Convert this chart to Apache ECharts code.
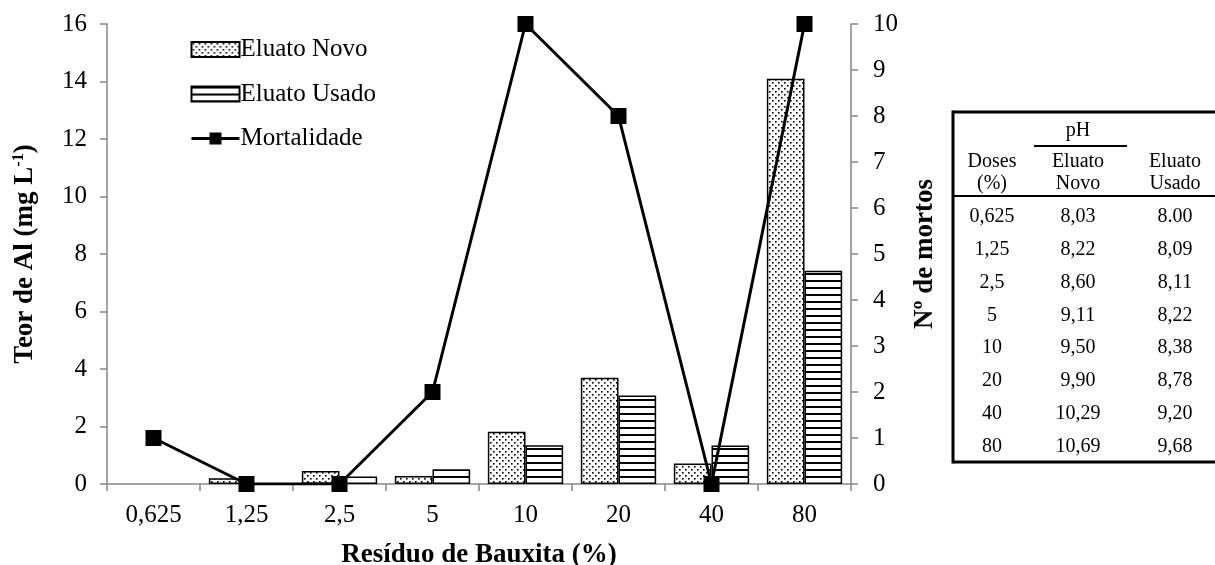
<!DOCTYPE html>
<html>
<head>
<meta charset="utf-8">
<script src="https://cdn.jsdelivr.net/npm/echarts@6/dist/echarts.min.js"></script>
<style>
html,body{margin:0;padding:0;background:#fff;}
#chart{width:1215px;height:565px;}
</style>
</head>
<body>
<div id="chart"></div>
<script>
// ---- data ----
var categories = ['0,625', '1,25', '2,5', '5', '10', '20', '40', '80'];
var eluatoNovo = [null, 0.2, 0.45, 0.28, 1.82, 3.70, 0.71, 14.1];
var eluatoUsado = [null, 0, 0.26, 0.51, 1.35, 3.08, 1.34, 7.42];
var mortalidade = [1, 0, 0, 2, 10, 8, 0, 10];
var leftTicks = [0, 16, 2];   // min, max, interval
var rightTicks = [0, 10, 1];
// pH table
var tableDoses = ['0,625', '1,25', '2,5', '5', '10', '20', '40', '80'];
var phNovo = ['8,03', '8,22', '8,60', '9,11', '9,50', '9,90', '10,29', '10,69'];
var phUsado = ['8.00', '8,09', '8,11', '8,22', '8,38', '8,78', '9,20', '9,68'];

// ---- patterns ----
function dotPattern() {
  var c = document.createElement('canvas');
  c.width = 6; c.height = 6;
  var g = c.getContext('2d');
  g.fillStyle = '#fff'; g.fillRect(0, 0, 6, 6);
  g.fillStyle = '#000';
  g.fillRect(1, 1, 1.6, 1.6);
  g.fillRect(4, 4, 1.6, 1.6);
  return c;
}
function linePattern() {
  var c = document.createElement('canvas');
  c.width = 8; c.height = 7;
  var g = c.getContext('2d');
  g.fillStyle = '#fff'; g.fillRect(0, 0, 8, 7);
  g.fillStyle = '#000';
  g.fillRect(0, 0, 8, 2);
  return c;
}

var FONT = "'Liberation Serif', 'Times New Roman', serif";
var chart = echarts.init(document.getElementById('chart'), null, {renderer: 'canvas'});

// table graphics
var colX = [992, 1078, 1175];
var rowY0 = 217, rowStep = 32.8;
var tableEls = [];
function txt(x, y, s) {
  tableEls.push({type: 'text', x: x, y: y, style: {text: s, fontFamily: FONT, fontSize: 20, fill: '#000', align: 'center', verticalAlign: 'middle'}});
}
function ln(x1, y1, x2, y2, w) {
  tableEls.push({type: 'line', shape: {x1: x1, y1: y1, x2: x2, y2: y2}, style: {stroke: '#000', lineWidth: w}});
}
ln(953, 112, 1215, 112, 3);
ln(953, 462, 1215, 462, 3);
ln(953, 110.5, 953, 463.5, 3);
ln(953, 196, 1215, 196, 2);
ln(1034, 146, 1127, 146, 2);
txt(1078, 131, 'pH');
txt(colX[0], 162, 'Doses'); txt(colX[0], 184, '(%)');
txt(colX[1], 162, 'Eluato'); txt(colX[1], 184, 'Novo');
txt(colX[2], 162, 'Eluato'); txt(colX[2], 184, 'Usado');
for (var i = 0; i < tableDoses.length; i++) {
  var y = rowY0 + i * rowStep;
  txt(colX[0], y, tableDoses[i]);
  txt(colX[1], y, phNovo[i]);
  txt(colX[2], y, phUsado[i]);
}

var axisLineStyle = {color: '#868686', width: 1.5};

chart.setOption({
  animation: false,
  backgroundColor: '#fff',
  textStyle: {fontFamily: FONT, color: '#000'},
  grid: {left: 107, right: 364, top: 24, bottom: 81, containLabel: false, outerBoundsMode: 'none'},
  legend: {
    orient: 'vertical', left: 185, top: 32, itemGap: 19.5,
    itemWidth: 48, itemHeight: 15,
    textStyle: {fontFamily: FONT, fontSize: 25, color: '#000', padding: [0, 0, 0, -4]},
    data: [
      {name: 'Eluato Novo', icon: 'rect'},
      {name: 'Eluato Usado', icon: 'rect'},
      {name: 'Mortalidade'}
    ],
    lineStyle: {width: 3}
  },
  xAxis: {
    type: 'category', data: categories,
    axisLine: {lineStyle: axisLineStyle},
    axisTick: {show: true, length: 7, lineStyle: axisLineStyle, alignWithLabel: false},
    axisLabel: {fontFamily: FONT, fontSize: 25, color: '#000', margin: 19},
    name: 'Resíduo de Bauxita (%)', nameLocation: 'middle', nameGap: 58,
    nameTextStyle: {fontFamily: FONT, fontSize: 27, fontWeight: 'bold', color: '#000'}
  },
  yAxis: [{
    type: 'value', min: leftTicks[0], max: leftTicks[1], interval: leftTicks[2],
    axisLine: {show: true, lineStyle: axisLineStyle},
    axisTick: {show: true, length: 7, lineStyle: axisLineStyle},
    splitLine: {show: false},
    axisLabel: {fontFamily: FONT, fontSize: 25, color: '#000', margin: 20},
    name: 'Teor de Al (mg L{sup|-1})', nameLocation: 'middle', nameGap: 68, nameRotate: 90,
    nameTextStyle: {fontFamily: FONT, fontSize: 27, fontWeight: 'bold', color: '#000',
      rich: {sup: {fontFamily: FONT, fontSize: 16, fontWeight: 'bold', verticalAlign: 'top', padding: [0, 0, 12, 0], color: '#000'}}}
  }, {
    type: 'value', min: rightTicks[0], max: rightTicks[1], interval: rightTicks[2], position: 'right',
    axisLine: {show: true, lineStyle: axisLineStyle},
    axisTick: {show: true, length: 7, lineStyle: axisLineStyle},
    splitLine: {show: false},
    axisLabel: {fontFamily: FONT, fontSize: 25, color: '#000', margin: 22},
    name: 'Nº de mortos', nameLocation: 'middle', nameGap: 61, nameRotate: 90,
    nameTextStyle: {fontFamily: FONT, fontSize: 27, fontWeight: 'bold', color: '#000'}
  }],
  series: [{
    name: 'Eluato Novo', type: 'bar', data: eluatoNovo, yAxisIndex: 0,
    barGap: '0%', barCategoryGap: '19%',
    itemStyle: {color: {image: dotPattern(), repeat: 'repeat'}, borderColor: '#000', borderWidth: 1.5}
  }, {
    name: 'Eluato Usado', type: 'bar', data: eluatoUsado, yAxisIndex: 0,
    barGap: '0%', barCategoryGap: '19%',
    itemStyle: {color: {image: linePattern(), repeat: 'repeat'}, borderColor: '#000', borderWidth: 1.5}
  }, {
    name: 'Mortalidade', type: 'line', data: mortalidade, yAxisIndex: 1,
    symbol: 'rect', symbolSize: 16, z: 5,
    lineStyle: {color: '#000', width: 3},
    itemStyle: {color: '#000'}
  }],
  graphic: tableEls
});
</script>
</body>
</html>
